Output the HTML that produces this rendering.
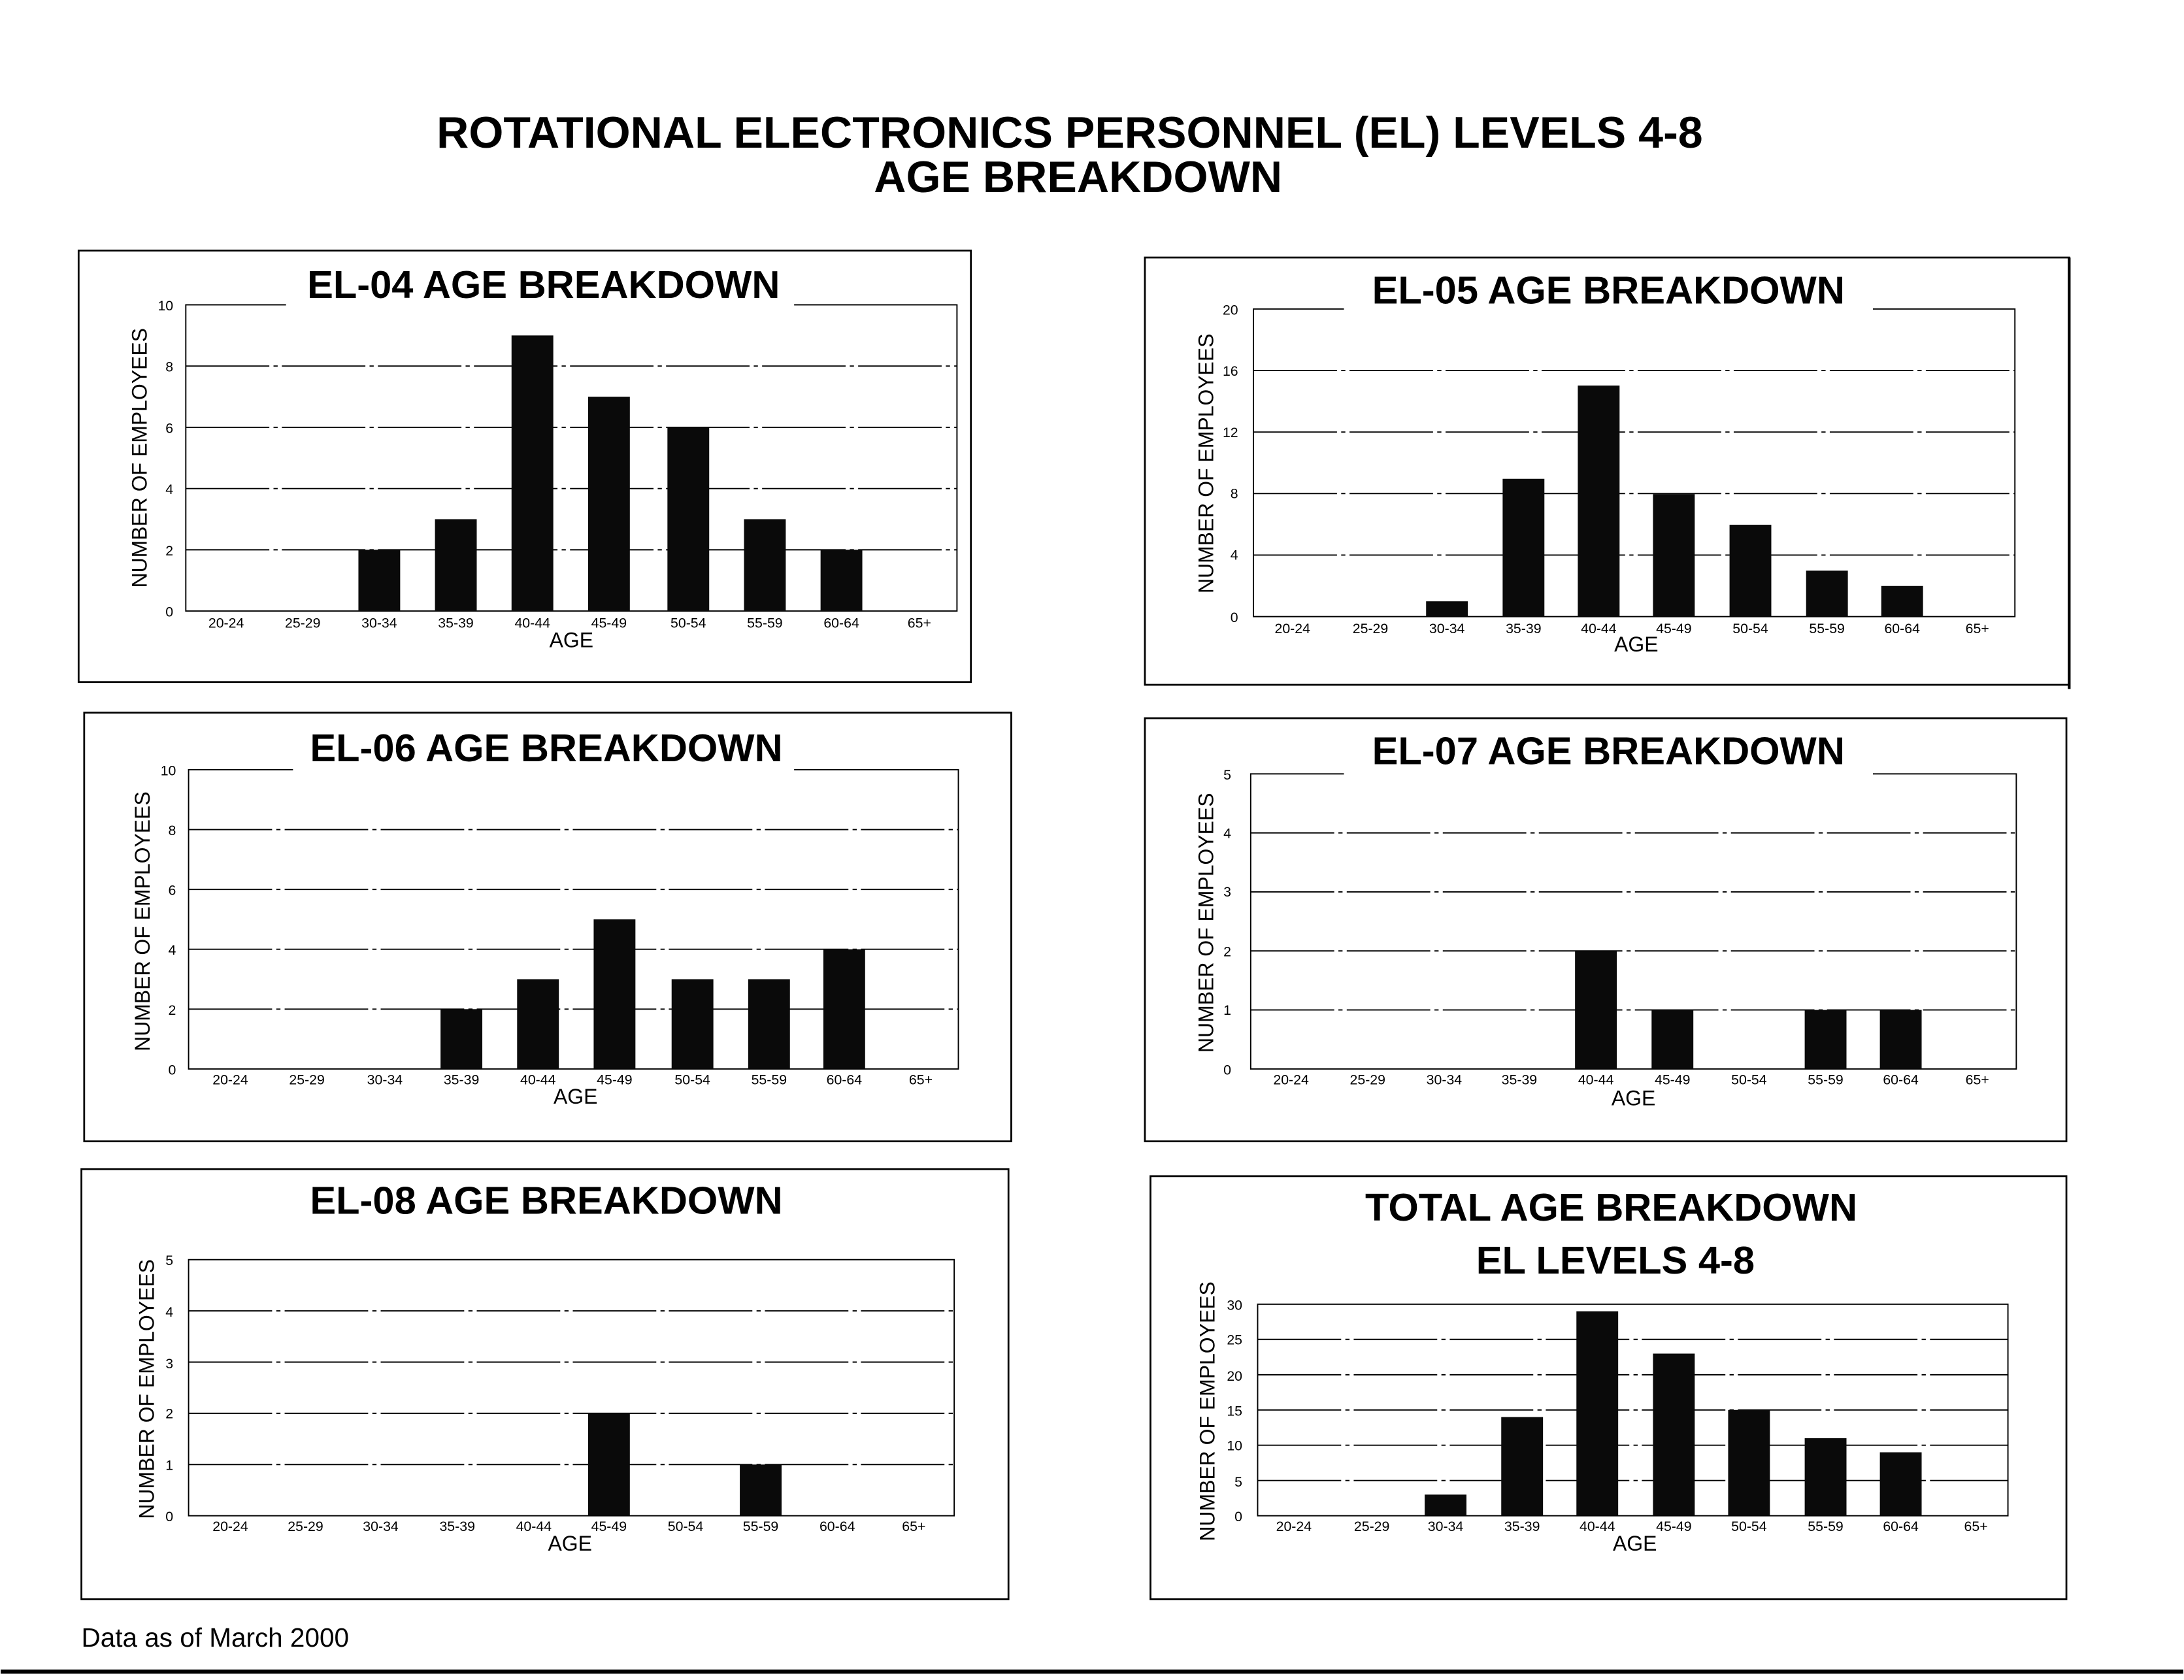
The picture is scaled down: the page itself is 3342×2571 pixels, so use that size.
<!DOCTYPE html>
<html><head><meta charset="utf-8"><style>
html,body{margin:0;padding:0;background:#fff}
svg{display:block}
text{font-family:"Liberation Sans",Arial,sans-serif;fill:#000}
.t{font-weight:bold;font-size:32px;text-anchor:middle}
.ct{font-weight:bold;font-size:28px;text-anchor:middle}
.tk{font-size:10px;text-anchor:middle}
.yk{font-size:10px;text-anchor:end}
.yt{font-size:15px;text-anchor:middle}
.ax{font-size:15px;text-anchor:middle}
.box{fill:none;stroke:#000;stroke-width:1.3}
.pl{fill:none;stroke:#000;stroke-width:0.9}
.g{stroke:#000;stroke-width:0.9;stroke-dasharray:60 3 3 3}
.b{fill:#0a0a0a}
</style></head><body>
<svg width="3342" height="2571" viewBox="0 0 1568 1207" xmlns="http://www.w3.org/2000/svg">
<rect width="1568" height="1207" fill="#fff"/>
<text class="t" x="768" y="106">ROTATIONAL ELECTRONICS PERSONNEL (EL) LEVELS 4-8</text>
<text class="t" x="774" y="138">AGE BREAKDOWN</text>

<!-- Chart 1 EL-04 -->
<rect class="box" x="56" y="180" width="641" height="310"/>
<rect class="pl" x="133" y="219" width="554" height="220"/>
<line class="g" x1="133" y1="263" x2="687" y2="263"/><line class="g" x1="133" y1="307" x2="687" y2="307"/><line class="g" x1="133" y1="351" x2="687" y2="351"/><line class="g" x1="133" y1="395" x2="687" y2="395"/>
<rect x="205" y="195" width="365" height="30" fill="#fff"/>
<text class="ct" x="390" y="214">EL-04 AGE BREAKDOWN</text>
<rect class="b" x="257" y="395" width="30" height="44"/><rect class="b" x="312" y="373" width="30" height="66"/><rect class="b" x="367" y="241" width="30" height="198"/><rect class="b" x="422" y="285" width="30" height="154"/><rect class="b" x="479" y="307" width="30" height="132"/><rect class="b" x="534" y="373" width="30" height="66"/><rect class="b" x="589" y="395" width="30" height="44"/>
<text class="yk" x="124" y="223">10</text><text class="yk" x="124" y="267">8</text><text class="yk" x="124" y="311">6</text><text class="yk" x="124" y="355">4</text><text class="yk" x="124" y="399">2</text><text class="yk" x="124" y="443">0</text>
<g class="tk"><text x="162" y="451">20-24</text><text x="217" y="451">25-29</text><text x="272" y="451">30-34</text><text x="327" y="451">35-39</text><text x="382" y="451">40-44</text><text x="437" y="451">45-49</text><text x="494" y="451">50-54</text><text x="549" y="451">55-59</text><text x="604" y="451">60-64</text><text x="660" y="451">65+</text></g>
<text class="ax" x="410" y="465">AGE</text>
<text class="yt" transform="translate(105,329) rotate(-90)">NUMBER OF EMPLOYEES</text>

<!-- Chart 2 EL-05 -->
<rect class="box" x="822" y="185" width="664" height="307"/>
<line x1="1486" y1="185" x2="1486" y2="495" stroke="#000" stroke-width="2"/>
<rect class="pl" x="900" y="222" width="547" height="221"/>
<line class="g" x1="900" y1="266.2" x2="1447" y2="266.2"/><line class="g" x1="900" y1="310.4" x2="1447" y2="310.4"/><line class="g" x1="900" y1="354.6" x2="1447" y2="354.6"/><line class="g" x1="900" y1="398.8" x2="1447" y2="398.8"/>
<rect x="965" y="196" width="380" height="30" fill="#fff"/>
<text class="ct" x="1155" y="218">EL-05 AGE BREAKDOWN</text>
<rect class="b" x="1024" y="432" width="30" height="11"/><rect class="b" x="1079" y="344" width="30" height="99"/><rect class="b" x="1133" y="277" width="30" height="166"/><rect class="b" x="1187" y="355" width="30" height="88"/><rect class="b" x="1242" y="377" width="30" height="66"/><rect class="b" x="1297" y="410" width="30" height="33"/><rect class="b" x="1351" y="421" width="30" height="22"/>
<text class="yk" x="889" y="226">20</text><text class="yk" x="889" y="270">16</text><text class="yk" x="889" y="314">12</text><text class="yk" x="889" y="358">8</text><text class="yk" x="889" y="402">4</text><text class="yk" x="889" y="447">0</text>
<g class="tk"><text x="928" y="455">20-24</text><text x="984" y="455">25-29</text><text x="1039" y="455">30-34</text><text x="1094" y="455">35-39</text><text x="1148" y="455">40-44</text><text x="1202" y="455">45-49</text><text x="1257" y="455">50-54</text><text x="1312" y="455">55-59</text><text x="1366" y="455">60-64</text><text x="1420" y="455">65+</text></g>
<text class="ax" x="1175" y="468">AGE</text>
<text class="yt" transform="translate(871,333) rotate(-90)">NUMBER OF EMPLOYEES</text>

<!-- Chart 3 EL-06 -->
<rect class="box" x="60" y="512" width="666" height="308"/>
<rect class="pl" x="135" y="553" width="553" height="215"/>
<line class="g" x1="135" y1="596" x2="688" y2="596"/><line class="g" x1="135" y1="639" x2="688" y2="639"/><line class="g" x1="135" y1="682" x2="688" y2="682"/><line class="g" x1="135" y1="725" x2="688" y2="725"/>
<rect x="210" y="525" width="360" height="30" fill="#fff"/>
<text class="ct" x="392" y="547">EL-06 AGE BREAKDOWN</text>
<rect class="b" x="316" y="725" width="30" height="43"/><rect class="b" x="371" y="703.5" width="30" height="64.5"/><rect class="b" x="426" y="660.5" width="30" height="107.5"/><rect class="b" x="482" y="703.5" width="30" height="64.5"/><rect class="b" x="537" y="703.5" width="30" height="64.5"/><rect class="b" x="591" y="682" width="30" height="86"/>
<text class="yk" x="126" y="557">10</text><text class="yk" x="126" y="600">8</text><text class="yk" x="126" y="643">6</text><text class="yk" x="126" y="686">4</text><text class="yk" x="126" y="729">2</text><text class="yk" x="126" y="772">0</text>
<g class="tk"><text x="165" y="779">20-24</text><text x="220" y="779">25-29</text><text x="276" y="779">30-34</text><text x="331" y="779">35-39</text><text x="386" y="779">40-44</text><text x="441" y="779">45-49</text><text x="497" y="779">50-54</text><text x="552" y="779">55-59</text><text x="606" y="779">60-64</text><text x="661" y="779">65+</text></g>
<text class="ax" x="413" y="793">AGE</text>
<text class="yt" transform="translate(107,662) rotate(-90)">NUMBER OF EMPLOYEES</text>

<!-- Chart 4 EL-07 -->
<rect class="box" x="822" y="516" width="662" height="304"/>
<rect class="pl" x="898" y="556" width="550" height="212"/>
<line class="g" x1="898" y1="598.4" x2="1448" y2="598.4"/><line class="g" x1="898" y1="640.8" x2="1448" y2="640.8"/><line class="g" x1="898" y1="683.2" x2="1448" y2="683.2"/><line class="g" x1="898" y1="725.6" x2="1448" y2="725.6"/>
<rect x="965" y="527" width="380" height="30" fill="#fff"/>
<text class="ct" x="1155" y="549">EL-07 AGE BREAKDOWN</text>
<rect class="b" x="1131" y="683.2" width="30" height="84.8"/><rect class="b" x="1186" y="725.6" width="30" height="42.4"/><rect class="b" x="1296" y="725.6" width="30" height="42.4"/><rect class="b" x="1350" y="725.6" width="30" height="42.4"/>
<text class="yk" x="884" y="560">5</text><text class="yk" x="884" y="602">4</text><text class="yk" x="884" y="644">3</text><text class="yk" x="884" y="687">2</text><text class="yk" x="884" y="729">1</text><text class="yk" x="884" y="772">0</text>
<g class="tk"><text x="927" y="779">20-24</text><text x="982" y="779">25-29</text><text x="1037" y="779">30-34</text><text x="1091" y="779">35-39</text><text x="1146" y="779">40-44</text><text x="1201" y="779">45-49</text><text x="1256" y="779">50-54</text><text x="1311" y="779">55-59</text><text x="1365" y="779">60-64</text><text x="1420" y="779">65+</text></g>
<text class="ax" x="1173" y="794">AGE</text>
<text class="yt" transform="translate(871,663) rotate(-90)">NUMBER OF EMPLOYEES</text>

<!-- Chart 5 EL-08 -->
<rect class="box" x="58" y="840" width="666" height="309"/>
<rect class="pl" x="135" y="905" width="550" height="184"/>
<line class="g" x1="135" y1="941.8" x2="685" y2="941.8"/><line class="g" x1="135" y1="978.6" x2="685" y2="978.6"/><line class="g" x1="135" y1="1015.4" x2="685" y2="1015.4"/><line class="g" x1="135" y1="1052.2" x2="685" y2="1052.2"/>
<text class="ct" x="392" y="872">EL-08 AGE BREAKDOWN</text>
<rect class="b" x="422" y="1015.4" width="30" height="73.6"/><rect class="b" x="531" y="1052.2" width="30" height="36.8"/>
<text class="yk" x="124" y="909">5</text><text class="yk" x="124" y="946">4</text><text class="yk" x="124" y="983">3</text><text class="yk" x="124" y="1019">2</text><text class="yk" x="124" y="1056">1</text><text class="yk" x="124" y="1093">0</text>
<g class="tk"><text x="165" y="1100">20-24</text><text x="219" y="1100">25-29</text><text x="273" y="1100">30-34</text><text x="328" y="1100">35-39</text><text x="383" y="1100">40-44</text><text x="437" y="1100">45-49</text><text x="492" y="1100">50-54</text><text x="546" y="1100">55-59</text><text x="601" y="1100">60-64</text><text x="656" y="1100">65+</text></g>
<text class="ax" x="409" y="1114">AGE</text>
<text class="yt" transform="translate(110,998) rotate(-90)">NUMBER OF EMPLOYEES</text>

<!-- Chart 6 TOTAL -->
<rect class="box" x="826" y="845" width="658" height="304"/>
<rect class="pl" x="903" y="937" width="539" height="152"/>
<line class="g" x1="903" y1="962.3" x2="1442" y2="962.3"/><line class="g" x1="903" y1="987.7" x2="1442" y2="987.7"/><line class="g" x1="903" y1="1013" x2="1442" y2="1013"/><line class="g" x1="903" y1="1038.3" x2="1442" y2="1038.3"/><line class="g" x1="903" y1="1063.7" x2="1442" y2="1063.7"/>
<text class="ct" x="1157" y="877">TOTAL AGE BREAKDOWN</text>
<text class="ct" x="1160" y="915">EL LEVELS 4-8</text>
<rect class="b" x="1023" y="1073.8" width="30" height="15.2"/><rect class="b" x="1078" y="1018.1" width="30" height="70.9"/><rect class="b" x="1132" y="942.1" width="30" height="146.9"/><rect class="b" x="1187" y="972.5" width="30" height="116.5"/><rect class="b" x="1241" y="1013" width="30" height="76"/><rect class="b" x="1296" y="1033.3" width="30" height="55.7"/><rect class="b" x="1350" y="1043.4" width="30" height="45.6"/>
<text class="yk" x="892" y="941">30</text><text class="yk" x="892" y="966">25</text><text class="yk" x="892" y="992">20</text><text class="yk" x="892" y="1017">15</text><text class="yk" x="892" y="1042">10</text><text class="yk" x="892" y="1068">5</text><text class="yk" x="892" y="1093">0</text>
<g class="tk"><text x="929" y="1100">20-24</text><text x="985" y="1100">25-29</text><text x="1038" y="1100">30-34</text><text x="1093" y="1100">35-39</text><text x="1147" y="1100">40-44</text><text x="1202" y="1100">45-49</text><text x="1256" y="1100">50-54</text><text x="1311" y="1100">55-59</text><text x="1365" y="1100">60-64</text><text x="1419" y="1100">65+</text></g>
<text class="ax" x="1174" y="1114">AGE</text>
<text class="yt" transform="translate(872,1014) rotate(-90)">NUMBER OF EMPLOYEES</text>

<text x="58" y="1183" font-size="19">Data as of March 2000</text>
<line x1="0" y1="1201" x2="1568" y2="1201" stroke="#000" stroke-width="3"/>
</svg>
</body></html>
